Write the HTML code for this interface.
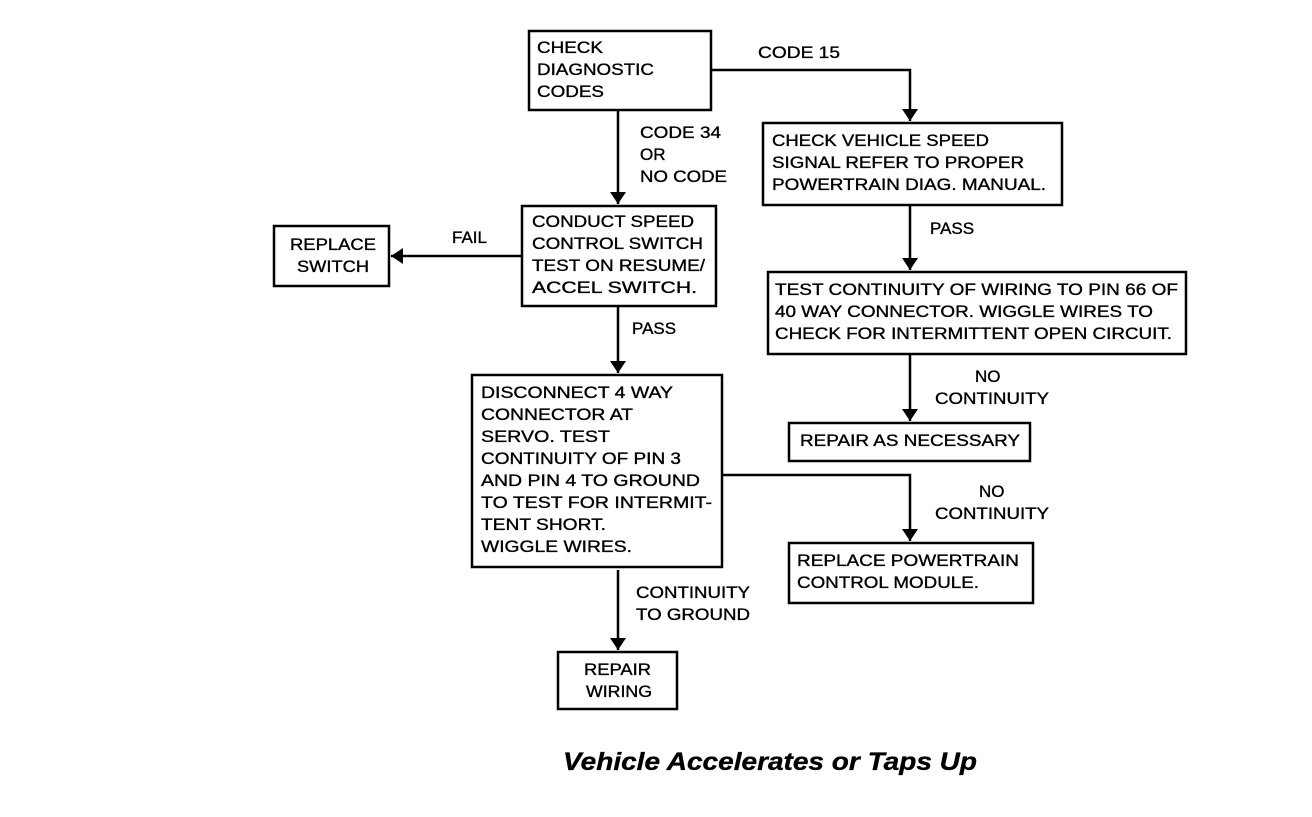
<!DOCTYPE html>
<html><head><style>
body{margin:0;background:#fff;}
svg text{font-family:"Liberation Sans",Arial,sans-serif;font-size:17px;fill:#000;stroke:#000;stroke-width:0.35;}
</style></head><body>
<svg width="1312" height="812" xmlns="http://www.w3.org/2000/svg">
<defs><marker id="a" markerWidth="12" markerHeight="16" refX="12" refY="8" orient="auto" markerUnits="userSpaceOnUse"><path d="M0,0 L12,8 L0,16 Z" fill="#000"/></marker></defs>
<g fill="none" stroke="#000" stroke-width="2.5">
<rect x="529" y="31" width="182" height="79"/>
<rect x="522" y="206" width="194" height="100"/>
<rect x="274" y="226" width="115" height="60"/>
<rect x="763" y="123" width="299" height="82"/>
<rect x="768" y="272" width="418" height="82"/>
<rect x="789" y="423" width="241" height="38"/>
<rect x="472" y="375" width="250" height="192"/>
<rect x="789" y="543" width="244" height="60"/>
<rect x="558" y="652" width="119" height="57"/>
<path d="M618 110 V204" marker-end="url(#a)"/>
<path d="M711 70 H910 V121" marker-end="url(#a)"/>
<path d="M522 256 H391" marker-end="url(#a)"/>
<path d="M618 306 V373" marker-end="url(#a)"/>
<path d="M910 205 V270" marker-end="url(#a)"/>
<path d="M910 354 V421" marker-end="url(#a)"/>
<path d="M722 475 H910 V541" marker-end="url(#a)"/>
<path d="M618 570 V650" marker-end="url(#a)"/>
</g>
<g>
<text x="537" y="53" textLength="66" lengthAdjust="spacingAndGlyphs">CHECK</text><text x="537" y="75" textLength="117" lengthAdjust="spacingAndGlyphs">DIAGNOSTIC</text><text x="537" y="97" textLength="67" lengthAdjust="spacingAndGlyphs">CODES</text>
<text x="758" y="58" textLength="82" lengthAdjust="spacingAndGlyphs">CODE 15</text>
<text x="640" y="138" textLength="81" lengthAdjust="spacingAndGlyphs">CODE 34</text><text x="640" y="160">OR</text><text x="640" y="182" textLength="87" lengthAdjust="spacingAndGlyphs">NO CODE</text>
<text x="532" y="227" textLength="162" lengthAdjust="spacingAndGlyphs">CONDUCT SPEED</text><text x="532" y="249" textLength="171" lengthAdjust="spacingAndGlyphs">CONTROL SWITCH</text><text x="532" y="271" textLength="173" lengthAdjust="spacingAndGlyphs">TEST ON RESUME/</text><text x="532" y="293" textLength="165" lengthAdjust="spacingAndGlyphs">ACCEL SWITCH.</text>
<text x="452" y="243">FAIL</text>
<text x="290" y="250" textLength="86" lengthAdjust="spacingAndGlyphs">REPLACE</text><text x="297" y="272" textLength="72" lengthAdjust="spacingAndGlyphs">SWITCH</text>
<text x="772" y="146" textLength="217" lengthAdjust="spacingAndGlyphs">CHECK VEHICLE SPEED</text><text x="772" y="168" textLength="252" lengthAdjust="spacingAndGlyphs">SIGNAL REFER TO PROPER</text><text x="772" y="190" textLength="274" lengthAdjust="spacingAndGlyphs">POWERTRAIN DIAG. MANUAL.</text>
<text x="930" y="234">PASS</text>
<text x="775" y="295" textLength="403" lengthAdjust="spacingAndGlyphs">TEST CONTINUITY OF WIRING TO PIN 66 OF</text><text x="775" y="317" textLength="378" lengthAdjust="spacingAndGlyphs">40 WAY CONNECTOR. WIGGLE WIRES TO</text><text x="775" y="339" textLength="397" lengthAdjust="spacingAndGlyphs">CHECK FOR INTERMITTENT OPEN CIRCUIT.</text>
<text x="632" y="334">PASS</text>
<text x="975" y="382">NO</text><text x="935" y="404" textLength="114" lengthAdjust="spacingAndGlyphs">CONTINUITY</text>
<text x="800" y="446" textLength="220" lengthAdjust="spacingAndGlyphs">REPAIR AS NECESSARY</text>
<text x="481" y="398" textLength="192" lengthAdjust="spacingAndGlyphs">DISCONNECT 4 WAY</text><text x="481" y="420" textLength="152" lengthAdjust="spacingAndGlyphs">CONNECTOR AT</text><text x="481" y="442" textLength="129" lengthAdjust="spacingAndGlyphs">SERVO. TEST</text><text x="481" y="464" textLength="200" lengthAdjust="spacingAndGlyphs">CONTINUITY OF PIN 3</text><text x="481" y="486" textLength="219" lengthAdjust="spacingAndGlyphs">AND PIN 4 TO GROUND</text><text x="481" y="508" textLength="231" lengthAdjust="spacingAndGlyphs">TO TEST FOR INTERMIT-</text><text x="481" y="530" textLength="125" lengthAdjust="spacingAndGlyphs">TENT SHORT.</text><text x="481" y="552" textLength="151" lengthAdjust="spacingAndGlyphs">WIGGLE WIRES.</text>
<text x="979" y="497">NO</text><text x="935" y="519" textLength="114" lengthAdjust="spacingAndGlyphs">CONTINUITY</text>
<text x="797" y="566" textLength="222" lengthAdjust="spacingAndGlyphs">REPLACE POWERTRAIN</text><text x="797" y="588" textLength="182" lengthAdjust="spacingAndGlyphs">CONTROL MODULE.</text>
<text x="636" y="598" textLength="114" lengthAdjust="spacingAndGlyphs">CONTINUITY</text><text x="636" y="620" textLength="114" lengthAdjust="spacingAndGlyphs">TO GROUND</text>
<text x="584" y="675" textLength="67" lengthAdjust="spacingAndGlyphs">REPAIR</text><text x="586" y="697" textLength="66" lengthAdjust="spacingAndGlyphs">WIRING</text>
<text x="563" y="770" textLength="414" lengthAdjust="spacingAndGlyphs" style="font-size:25px;font-weight:bold;font-style:italic">Vehicle Accelerates or Taps Up</text>
</g>
</svg>
</body></html>
